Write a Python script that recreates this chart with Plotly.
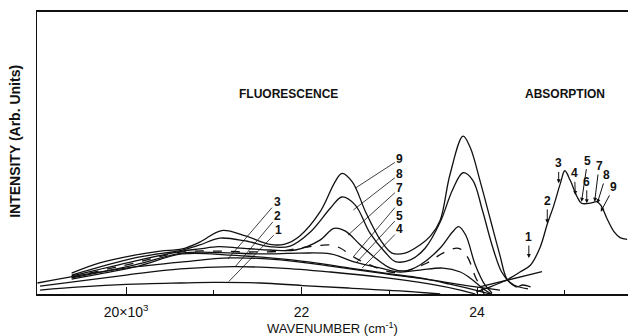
import plotly.graph_objects as go

# Wavenumber in units of 10^3 cm^-1, intensity in arbitrary units (0-100)
wn_1 = [19.02, 19.48, 20.00, 20.62, 20.99, 21.53, 22.01, 22.55, 23.12, 23.58]
int_1 = [1.4, 2.5, 3.4, 3.9, 4.1, 3.9, 3.0, 2.1, 1.1, 0.0]

wn_2 = [19.02, 20.00, 20.62, 21.22, 21.76, 22.33, 22.90, 23.47, 23.81, 23.98]
int_2 = [2.8, 6.7, 8.9, 9.7, 9.2, 7.8, 6.0, 3.5, 1.4, 0.0]

wn_3 = [18.99, 19.48, 20.00, 20.62, 21.19, 21.76, 22.33, 22.90, 23.47, 23.92, 24.26]
int_3 = [3.9, 6.7, 9.2, 11.3, 12.8, 12.1, 9.9, 7.4, 5.0, 2.8, 1.4]

wn_4 = [19.38, 20.10, 20.64, 21.19, 21.64, 22.10, 22.55, 23.01, 23.35, 23.69, 23.98, 24.15]
int_4 = [5.3, 9.6, 14.2, 13.8, 12.8, 11.3, 9.2, 7.1, 5.7, 3.5, 1.4, 0.0]

wn_5 = [19.38, 20.10, 20.64, 21.07, 21.53, 21.98, 22.33, 22.61, 22.90, 23.12, 23.35, 23.61,
        23.81, 23.92, 24.09, 24.17]
int_5 = [5.7, 10.3, 14.5, 14.7, 14.2, 14.5, 14.2, 11.3, 9.2, 7.8, 8.5, 9.2,
         7.8, 5.7, 1.4, 0.0]

wn_6 = [19.38, 20.10, 20.64, 21.07, 21.41, 21.76, 21.98, 22.21, 22.33, 22.44, 22.61, 22.78,
        23.01, 23.16, 23.43, 23.61, 23.79, 23.89, 23.98, 24.04, 24.08]
int_6 = [6.0, 11.0, 14.9, 15.2, 14.9, 15.2, 16.3, 17.2, 17.4, 16.3, 12.8, 10.3,
         7.8, 7.9, 11.0, 14.5, 16.2, 13.2, 6.1, 2.5, 0.0]

wn_7 = [19.38, 20.10, 20.64, 20.84, 21.05, 21.30, 21.64, 21.93, 22.21, 22.37, 22.50, 22.67,
        22.84, 23.01, 23.18, 23.35, 23.58, 23.72, 23.79, 23.87, 23.98, 24.09, 24.17]
int_7 = [6.4, 11.7, 15.2, 16.0, 16.8, 16.3, 15.6, 15.6, 19.1, 23.3, 22.3, 17.4,
         12.8, 9.2, 8.2, 10.3, 16.3, 22.0, 23.9, 20.9, 10.3, 3.2, 0.4]

wn_8 = [19.38, 20.10, 20.64, 20.84, 21.07, 21.36, 21.66, 21.87, 22.10, 22.33, 22.46, 22.61,
        22.78, 22.95, 23.07, 23.24, 23.41, 23.58, 23.72, 23.84, 23.95, 24.06, 24.17, 24.28,
        24.38, 24.45, 24.52, 24.61]
int_8 = [6.7, 12.8, 15.6, 17.4, 19.8, 18.8, 16.7, 17.0, 22.0, 30.5, 34.4, 31.6,
         21.6, 14.9, 11.5, 12.1, 16.3, 25.5, 36.9, 43.0, 40.4, 29.8, 17.4, 7.8,
         3.9, 2.5, 3.2, 2.5]

wn_9 = [19.38, 19.70, 20.10, 20.39, 20.64, 20.84, 21.09, 21.36, 21.64, 21.81, 21.98, 22.21,
        22.38, 22.46, 22.58, 22.73, 22.90, 23.03, 23.18, 23.35, 23.47, 23.58, 23.69, 23.84,
        23.92, 24.04, 24.15, 24.26, 24.34, 24.42, 24.58]
int_9 = [7.4, 11.0, 13.8, 15.2, 16.0, 18.4, 22.5, 20.6, 17.6, 17.7, 20.6, 29.1,
         39.7, 42.8, 39.7, 29.1, 19.1, 14.5, 14.5, 17.4, 20.6, 26.2, 42.2, 56.0,
         52.1, 39.4, 26.6, 13.8, 5.3, 3.2, 1.8]

# Absorption spectrum and the straight reference line beneath it
wn_abs = [23.99, 24.15, 24.26, 24.38, 24.49, 24.61, 24.72, 24.80, 24.87, 24.95, 25.00, 25.06,
          25.14, 25.19, 25.29, 25.37, 25.42, 25.48, 25.56, 25.63, 25.71]
int_abs = [0.7, 2.5, 3.9, 5.7, 7.8, 10.3, 16.7, 24.8, 31.0, 39.3, 43.7, 40.4,
           34.5, 32.2, 32.2, 32.7, 31.0, 26.8, 22.1, 20.0, 19.4]
wn_ref = [24.04, 24.74]
int_ref = [2.6, 7.9]

# Curve labels: label text, label position, leader end position
fluor_labels = ["9", "8", "7", "6", "5", "4", "3", "2", "1"]
fluor_lx = [23.12, 23.12, 23.12, 23.12, 23.12, 23.12, 21.72, 21.73, 21.74]
fluor_ly = [47.8, 42.6, 37.5, 32.7, 27.8, 22.9, 32.7, 27.7, 22.7]
fluor_tx = [22.61, 22.59, 22.53, 22.59, 22.63, 22.69, 21.16, 21.25, 21.17]
fluor_ty = [37.5, 29.8, 20.9, 13.2, 11.3, 9.2, 12.4, 9.9, 4.4]

abs_labels = ["1", "2", "3", "4", "5", "6", "7", "8", "9"]
abs_lx = [24.59, 24.80, 24.93, 25.11, 25.26, 25.25, 25.39, 25.47, 25.56]
abs_ly = [20.2, 33.0, 46.3, 42.8, 47.3, 39.8, 45.4, 42.2, 38.0]
abs_tx = [24.59, 24.80, 24.93, 25.12, 25.19, 25.25, 25.34, 25.37, 25.41]
abs_ty = [12.8, 25.1, 39.3, 35.1, 32.7, 32.2, 32.7, 32.2, 29.2]

tick_vals = [20, 22, 24]
tick_text = ["20×10<sup>3</sup>", "22", "24"]
minor_vals = [21, 23, 25]

FONT = "Liberation Sans, Arial, sans-serif"
INK = "#111111"

fig = go.Figure()

series = [
    (wn_1, int_1, "solid"), (wn_2, int_2, "solid"), (wn_3, int_3, "solid"),
    (wn_4, int_4, "solid"), (wn_5, int_5, "solid"), (wn_6, int_6, "dash"),
    (wn_7, int_7, "solid"), (wn_8, int_8, "solid"), (wn_9, int_9, "solid"),
    (wn_abs, int_abs, "solid"), (wn_ref, int_ref, "solid"),
]
for xs, ys, dash in series:
    fig.add_trace(go.Scatter(
        x=xs, y=ys, mode="lines",
        line=dict(color=INK, width=1.3, shape="spline", smoothing=1.0, dash=dash),
        showlegend=False, hoverinfo="skip",
    ))

annotations = []
for lab, lx, ly, tx, ty in zip(fluor_labels, fluor_lx, fluor_ly, fluor_tx, fluor_ty):
    annotations.append(dict(
        x=tx, y=ty, ax=lx, ay=ly, xref="x", yref="y", axref="x", ayref="y",
        text=f"<b>{lab}</b>", showarrow=True, arrowhead=0, arrowwidth=0.8,
        arrowcolor=INK, font=dict(family=FONT, size=12, color=INK),
    ))
for lab, lx, ly, tx, ty in zip(abs_labels, abs_lx, abs_ly, abs_tx, abs_ty):
    annotations.append(dict(
        x=tx, y=ty, ax=lx, ay=ly, xref="x", yref="y", axref="x", ayref="y",
        text=f"<b>{lab}</b>", showarrow=True, arrowhead=2, arrowsize=0.8,
        arrowwidth=1.0, arrowcolor=INK, font=dict(family=FONT, size=12, color=INK),
    ))

annotations += [
    dict(x=21.85, y=70.9, xref="x", yref="y", text="<b>FLUORESCENCE</b>", showarrow=False,
         font=dict(family=FONT, size=12, color=INK)),
    dict(x=25.0, y=70.9, xref="x", yref="y", text="<b>ABSORPTION</b>", showarrow=False,
         font=dict(family=FONT, size=12, color=INK)),
    dict(x=-0.037, y=0.54, xref="paper", yref="paper", xanchor="center", yanchor="middle",
         text="<b>INTENSITY (Arb. Units)</b>", showarrow=False, textangle=-90,
         font=dict(family=FONT, size=14, color=INK)),
]

fig.update_layout(
    width=628, height=336,
    margin=dict(l=37, r=0, t=12, b=42),
    paper_bgcolor="white", plot_bgcolor="white",
    annotations=annotations,
    xaxis=dict(
        range=[18.985, 25.72], showgrid=False, zeroline=False,
        showline=True, linecolor=INK, linewidth=1.5, mirror=True,
        tickmode="array", tickvals=tick_vals, ticktext=tick_text,
        ticks="inside", ticklen=7, tickwidth=1.2, tickcolor=INK,
        ticklabelstandoff=4,
        tickfont=dict(family=FONT, size=14, color=INK),
        minor=dict(tickmode="array", tickvals=minor_vals, ticks="inside",
                   ticklen=4, tickwidth=1, tickcolor=INK),
        title=dict(text="WAVENUMBER (cm<sup>-1</sup>)",
                   font=dict(family=FONT, size=13, color=INK), standoff=2),
    ),
    yaxis=dict(
        range=[0, 100], showgrid=False, zeroline=False,
        showline=True, linecolor=INK, linewidth=1.2,
        showticklabels=False, ticks="",
    ),
)

fig.write_html("out.html")
